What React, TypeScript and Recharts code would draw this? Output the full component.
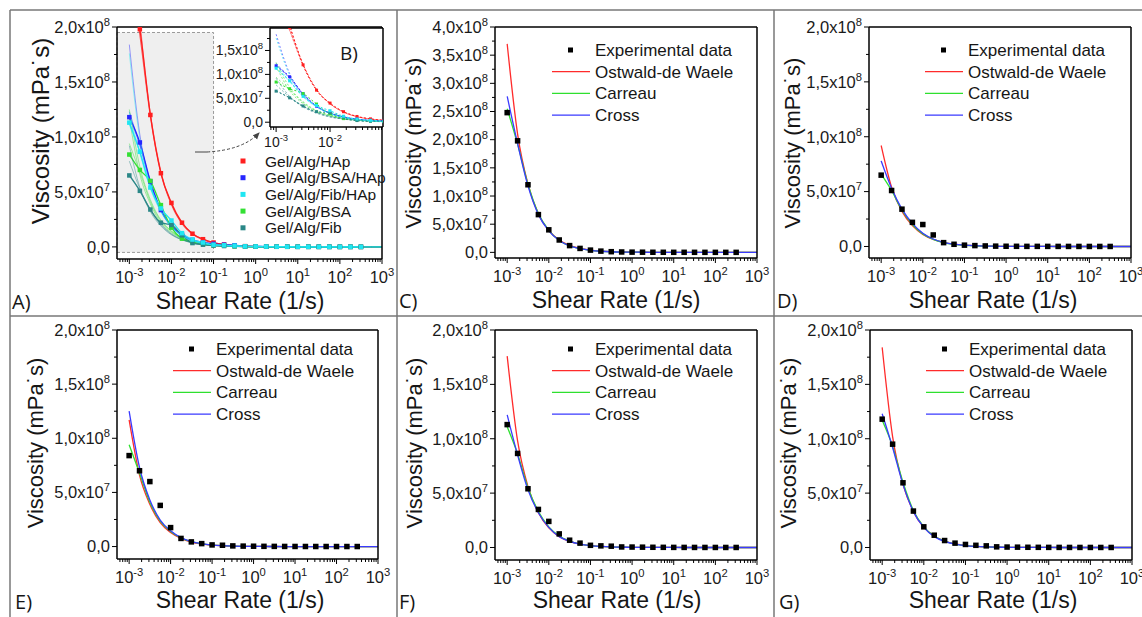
import React from 'react';
import { ComposedChart, Line, XAxis, YAxis, ReferenceLine, ReferenceArea, CartesianGrid } from 'recharts';

const FONT = 'Arial, "Liberation Sans", sans-serif';
const LABEL_FONT = '"Open Sans", Arial, sans-serif';

// shear rate (1/s) of the measured points, and of the fitted curves
const RATE = [0.001, 0.00178, 0.00316, 0.00562, 0.01, 0.0178, 0.0316, 0.0562, 0.1, 0.178, 0.316, 0.562, 1, 1.78, 3.16, 5.62, 10, 17.8, 31.6, 56.2, 100, 178, 316];
const FIT_RATE = [...RATE, 562, 1000];

// viscosity in units of 10^8 mPa·s
const C_EXP = [2.48, 1.98, 1.2, 0.67, 0.4, 0.22, 0.12, 0.07, 0.04, 0.022, 0.012, 0.007, 0.004, 0.003, 0.002, 0.0015, 0.001, 0.001, 0.0008, 0.0006, 0.0005, 0.0004, 0.0003];
const C_OW = [3.7, 2.1, 1.21, 0.68, 0.39, 0.22, 0.125, 0.07, 0.04, 0.023, 0.013, 0.007, 0.004, 0.0023, 0.0013, 0.0007, 0.0004, 0.0002, 0.0001, 0.0001, 0, 0, 0, 0, 0];
const C_CA = [2.55, 1.92, 1.21, 0.69, 0.39, 0.21, 0.115, 0.065, 0.036, 0.02, 0.011, 0.006, 0.0035, 0.002, 0.001, 0.0006, 0.0003, 0.0002, 0.0001, 0, 0, 0, 0, 0, 0];
const C_CR = [2.77, 1.93, 1.18, 0.67, 0.38, 0.21, 0.115, 0.065, 0.036, 0.02, 0.011, 0.006, 0.0035, 0.002, 0.001, 0.0006, 0.0003, 0.0002, 0.0001, 0, 0, 0, 0, 0, 0];

const D_EXP = [0.65, 0.51, 0.34, 0.22, 0.2, 0.105, 0.035, 0.02, 0.012, 0.008, 0.005, 0.003, 0.002, 0.0015, 0.001, 0.001, 0.0008, 0.0006, 0.0005, 0.0004, 0.0003, 0.0003, 0.0002];
const D_OW = [0.92, 0.54, 0.32, 0.19, 0.11, 0.064, 0.037, 0.021, 0.012, 0.007, 0.004, 0.0023, 0.0013, 0.0008, 0.0004, 0.0002, 0.0001, 0, 0, 0, 0, 0, 0, 0, 0];
const D_CA = [0.66, 0.51, 0.33, 0.2, 0.115, 0.065, 0.036, 0.02, 0.011, 0.006, 0.0035, 0.002, 0.001, 0.0006, 0.0003, 0.0002, 0.0001, 0, 0, 0, 0, 0, 0, 0, 0];
const D_CR = [0.78, 0.53, 0.34, 0.21, 0.12, 0.068, 0.038, 0.021, 0.012, 0.007, 0.004, 0.002, 0.001, 0.0006, 0.0003, 0.0002, 0.0001, 0, 0, 0, 0, 0, 0, 0, 0];

const E_EXP = [0.84, 0.7, 0.6, 0.38, 0.175, 0.075, 0.043, 0.027, 0.015, 0.012, 0.006, 0.004, 0.003, 0.002, 0.0015, 0.001, 0.0008, 0.0006, 0.0005, 0.0004, 0.0003, 0.0003, 0.0002];
const E_OW = [1.17, 0.66, 0.39, 0.22, 0.13, 0.075, 0.042, 0.024, 0.013, 0.0075, 0.004, 0.0023, 0.0013, 0.0007, 0.0004, 0.0002, 0.0001, 0, 0, 0, 0, 0, 0, 0, 0];
const E_CA = [0.94, 0.68, 0.41, 0.235, 0.14, 0.08, 0.045, 0.025, 0.014, 0.008, 0.0045, 0.0025, 0.0014, 0.0008, 0.0004, 0.0002, 0.0001, 0, 0, 0, 0, 0, 0, 0, 0];
const E_CR = [1.25, 0.73, 0.43, 0.245, 0.145, 0.082, 0.046, 0.026, 0.014, 0.008, 0.0045, 0.0025, 0.0014, 0.0008, 0.0004, 0.0002, 0.0001, 0, 0, 0, 0, 0, 0, 0, 0];

const F_EXP = [1.13, 0.865, 0.54, 0.35, 0.24, 0.125, 0.067, 0.04, 0.02, 0.015, 0.012, 0.005, 0.004, 0.003, 0.002, 0.0015, 0.001, 0.0008, 0.0006, 0.0005, 0.0004, 0.0003, 0.0003];
const F_OW = [1.76, 0.98, 0.56, 0.32, 0.18, 0.1, 0.056, 0.031, 0.017, 0.01, 0.0055, 0.003, 0.0017, 0.001, 0.0005, 0.0003, 0.0002, 0.0001, 0, 0, 0, 0, 0, 0, 0];
const F_CA = [1.11, 0.86, 0.55, 0.33, 0.19, 0.105, 0.058, 0.032, 0.018, 0.01, 0.0055, 0.003, 0.0017, 0.001, 0.0005, 0.0003, 0.0002, 0.0001, 0, 0, 0, 0, 0, 0, 0];
const F_CR = [1.22, 0.85, 0.53, 0.32, 0.185, 0.1, 0.057, 0.032, 0.018, 0.01, 0.0055, 0.003, 0.0017, 0.001, 0.0005, 0.0003, 0.0002, 0.0001, 0, 0, 0, 0, 0, 0, 0];

const G_EXP = [1.18, 0.95, 0.595, 0.335, 0.19, 0.113, 0.064, 0.04, 0.028, 0.02, 0.015, 0.006, 0.004, 0.003, 0.002, 0.0015, 0.001, 0.0008, 0.0006, 0.0005, 0.0004, 0.0003, 0.0003];
const G_OW = [1.84, 1.02, 0.58, 0.33, 0.185, 0.105, 0.058, 0.033, 0.018, 0.01, 0.006, 0.0033, 0.0018, 0.001, 0.0006, 0.0003, 0.0002, 0.0001, 0, 0, 0, 0, 0, 0, 0];
const G_CA = [1.17, 0.93, 0.6, 0.34, 0.19, 0.105, 0.058, 0.032, 0.018, 0.01, 0.0055, 0.003, 0.0017, 0.001, 0.0005, 0.0003, 0.0002, 0.0001, 0, 0, 0, 0, 0, 0, 0];
const G_CR = [1.23, 0.92, 0.58, 0.33, 0.185, 0.1, 0.056, 0.031, 0.017, 0.0095, 0.005, 0.003, 0.0017, 0.001, 0.0005, 0.0003, 0.0002, 0.0001, 0, 0, 0, 0, 0, 0, 0];

// axis ticks
const X_MIN = 5.1e-4;
const X_MAX = 1000;
const DECADES = [-4, -3, -2, -1, 0, 1, 2];
const MANTISSA = [1, 2, 3, 4, 5, 6, 7, 8, 9];
const X_TICKS = DECADES.flatMap((d) => MANTISSA.map((m) => m * Math.pow(10, d))).filter((v) => v >= X_MIN).concat([1000]);
const Y_TICKS_2 = [0, 0.25, 0.5, 0.75, 1, 1.25, 1.5, 1.75, 2];
const Y_TICKS_4 = [0, 0.25, 0.5, 0.75, 1, 1.25, 1.5, 1.75, 2, 2.25, 2.5, 2.75, 3, 3.25, 3.5, 3.75, 4];
const INSET_X = [7.7e-4, 0.096];
const INSET_X_TICKS = X_TICKS.filter((v) => v >= INSET_X[0] && v <= INSET_X[1]);
const INSET_Y_TICKS = [0, 0.25, 0.5, 0.75, 1, 1.25, 1.5, 1.75];

const RED = '#ff2b2b';
const GREEN = '#2ee02e';
const BLUE = '#3a3aff';
const FIT_NAMES = ['Ostwald-de Waele', 'Carreau', 'Cross'];
const FIT_COLORS = [RED, GREEN, BLUE];

const SAMPLES = [
  { name: 'Gel/Alg/HAp', color: '#ff1f1f', exp: C_EXP, fits: [C_OW, C_CA, C_CR] },
  { name: 'Gel/Alg/BSA/HAp', color: '#2626ff', exp: G_EXP, fits: [G_OW, G_CA, G_CR] },
  { name: 'Gel/Alg/Fib/HAp', color: '#1fe6f2', exp: F_EXP, fits: [F_OW, F_CA, F_CR] },
  { name: 'Gel/Alg/BSA', color: '#33e033', exp: E_EXP, fits: [E_OW, E_CA, E_CR] },
  { name: 'Gel/Alg/Fib', color: '#2a8787', exp: D_EXP, fits: [D_OW, D_CA, D_CR] },
];
const DRAW_ORDER = [0, 1, 3, 4, 2];

const pts = (rates: number[], vals: number[]) => rates.map((x, i) => ({ x, y: vals[i] }));

const square = (size: number, color: string) => (p: any) => {
  if (p.cx == null || p.cy == null) return <g key={p.key} />;
  return <rect key={p.key} x={p.cx - size / 2} y={p.cy - size / 2} width={size} height={size} fill={color} />;
};

const XTick = (props: any) => {
  const { x, y, payload, fs = 16 } = props;
  const v = payload.value as number;
  const lg = Math.log10(v);
  const e = Math.round(lg);
  const major = Math.abs(lg - e) < 1e-6;
  return (
    <g>
      <line x1={x} y1={y} x2={x} y2={y + (major ? 5 : 3)} stroke="#000" strokeWidth={1} />
      {major ? (
        <text x={x} y={y + fs * 1.45} textAnchor="middle" fontSize={fs} fontFamily={FONT} fill="#1a1a1a">
          10<tspan dy={-fs * 0.42} fontSize={fs * 0.68}>{e}</tspan>
        </text>
      ) : null}
    </g>
  );
};

const yLabel = (v: number) => {
  if (Math.abs(v) < 1e-9) return ['0,0', ''];
  if (v < 1) return [(v * 10).toFixed(1).replace('.', ',') + 'x10', '7'];
  return [v.toFixed(1).replace('.', ',') + 'x10', '8'];
};

const YTick = (props: any) => {
  const { x, y, payload, fs = 16 } = props;
  const v = payload.value as number;
  const major = Math.abs(v * 2 - Math.round(v * 2)) < 1e-6;
  const [base, exp] = yLabel(v);
  return (
    <g>
      <line x1={x} y1={y} x2={x - (major ? 5 : 3)} y2={y} stroke="#000" strokeWidth={1} />
      {major ? (
        <text x={x - 7} y={y + fs * 0.35} textAnchor="end" fontSize={fs} fontFamily={FONT} fill="#1a1a1a">
          {base}
          {exp ? <tspan dy={-fs * 0.42} fontSize={fs * 0.68}>{exp}</tspan> : null}
        </text>
      ) : null}
    </g>
  );
};

const PAD_L = 90;
const PAD_T = 20;
const PAD_R = 16;
const PAD_B = 32;
const AXIS = { stroke: '#000', strokeWidth: 1.5 };

type PlotProps = {
  x: number;
  y: number;
  w: number;
  h: number;
  xDomain: number[];
  xTicks: number[];
  yDomain: number[];
  yTicks: number[];
  fs: number;
  white?: boolean;
  children?: React.ReactNode;
};

function Plot({ x, y, w, h, xDomain, xTicks, yDomain, yTicks, fs, white, children }: PlotProps) {
  return (
    <div style={{ position: 'absolute', left: x - PAD_L, top: y - PAD_T }}>
      <ComposedChart width={PAD_L + w + PAD_R} height={PAD_T + h + PAD_B} margin={{ top: PAD_T, right: PAD_R, bottom: 0, left: 0 }}>
        {white ? <CartesianGrid fill="#fff" horizontal={false} vertical={false} /> : null}
        <XAxis
          dataKey="x"
          type="number"
          scale="log"
          domain={xDomain}
          allowDataOverflow
          ticks={xTicks}
          interval={0}
          height={PAD_B}
          tickSize={0}
          tickMargin={0}
          tickLine={false}
          axisLine={AXIS}
          tick={<XTick fs={fs} />}
        />
        <YAxis
          type="number"
          domain={yDomain}
          allowDataOverflow
          ticks={yTicks}
          interval={0}
          width={PAD_L}
          tickSize={0}
          tickMargin={0}
          tickLine={false}
          axisLine={AXIS}
          tick={<YTick fs={fs} />}
        />
        {children}
        <ReferenceLine y={yDomain[1]} stroke="#000" strokeWidth={1.5} ifOverflow="visible" />
        <ReferenceLine x={xDomain[1]} stroke="#000" strokeWidth={1.5} ifOverflow="visible" />
      </ComposedChart>
    </div>
  );
}

const fitLines = (fits: number[][], key: string) =>
  fits.map((f, i) => (
    <Line
      key={key + i}
      data={pts(FIT_RATE, f)}
      dataKey="y"
      type="monotone"
      stroke={FIT_COLORS[i]}
      strokeWidth={1.3}
      dot={false}
      activeDot={false}
      isAnimationActive={false}
    />
  ));

const expPoints = (vals: number[], key: string) => (
  <Line
    key={key}
    data={pts(RATE, vals)}
    dataKey="y"
    stroke="none"
    dot={square(5.5, '#000')}
    activeDot={false}
    isAnimationActive={false}
  />
);

const sampleLines = (small: boolean) =>
  DRAW_ORDER.flatMap((idx) => {
    const s = SAMPLES[idx];
    const fits = s.fits.map((f, i) => (
      <Line
        key={s.name + 'f' + i}
        data={pts(FIT_RATE, f)}
        dataKey="y"
        type="monotone"
        stroke={s.color}
        strokeOpacity={small ? 0.6 : 0.45}
        strokeWidth={1}
        strokeDasharray={small ? '2 2' : undefined}
        dot={false}
        activeDot={false}
        isAnimationActive={false}
      />
    ));
    const exp = (
      <Line
        key={s.name + 'e'}
        data={pts(RATE, s.exp)}
        dataKey="y"
        type="monotone"
        stroke={s.color}
        strokeWidth={small ? 1 : 1.3}
        strokeDasharray={small ? '2 2' : undefined}
        dot={square(small ? 3 : 4.5, s.color)}
        activeDot={false}
        isAnimationActive={false}
      />
    );
    return [...fits, exp];
  });

type FitPanel = { key: string; x: number; y: number; w: number; h: number; yMin: number; yMax: number; yTicks: number[]; exp: number[]; fits: number[][] };

const PANELS: FitPanel[] = [
  { key: 'C', x: 495, y: 27, w: 262, h: 231, yMin: -0.1, yMax: 4, yTicks: Y_TICKS_4, exp: C_EXP, fits: [C_OW, C_CA, C_CR] },
  { key: 'D', x: 869, y: 27, w: 262, h: 231, yMin: -0.105, yMax: 2, yTicks: Y_TICKS_2, exp: D_EXP, fits: [D_OW, D_CA, D_CR] },
  { key: 'E', x: 117, y: 330, w: 261, h: 229, yMin: -0.115, yMax: 2, yTicks: Y_TICKS_2, exp: E_EXP, fits: [E_OW, E_CA, E_CR] },
  { key: 'F', x: 495, y: 330, w: 262, h: 230, yMin: -0.115, yMax: 2, yTicks: Y_TICKS_2, exp: F_EXP, fits: [F_OW, F_CA, F_CR] },
  { key: 'G', x: 870, y: 330, w: 262, h: 230, yMin: -0.115, yMax: 2, yTicks: Y_TICKS_2, exp: G_EXP, fits: [G_OW, G_CA, G_CR] },
];

const TEXT = '#161616';

function FitLegend({ x, y }: { x: number; y: number }) {
  const step = 21.7;
  return (
    <g fontFamily={FONT} fontSize={17} fill={TEXT}>
      <rect x={x + 16} y={y - 2.5} width={5} height={5} fill="#000" />
      <text x={x + 43} y={y + 6}>Experimental data</text>
      {FIT_NAMES.map((n, i) => (
        <g key={n}>
          <line x1={x} x2={x + 38} y1={y + step * (i + 1)} y2={y + step * (i + 1)} stroke={FIT_COLORS[i]} strokeWidth={1.3} />
          <text x={x + 43} y={y + step * (i + 1) + 6}>{n}</text>
        </g>
      ))}
    </g>
  );
}

const LEGEND_POS: Record<string, [number, number]> = { C: [552, 50], D: [925, 50], E: [173, 349], F: [552, 349], G: [926, 349] };
const YLABEL_POS: Record<string, [number, number]> = { A: [40, 131], C: [413, 143], D: [792, 143], E: [35, 443], F: [414, 443], G: [788, 443] };
const XLABEL_POS: Record<string, [number, number]> = { A: [240, 301], C: [616, 300], D: [993, 300], E: [240, 600], F: [617, 600], G: [993, 600] };
const TAG_POS: Record<string, [number, number]> = { A: [12, 309], C: [399, 308], D: [777, 308], E: [15, 609], F: [399, 609], G: [779, 609] };

export default function App() {
  return (
    <div style={{ position: 'relative', width: 1142, height: 617, background: '#fff', overflow: 'hidden' }}>
      <style>{'body{margin:0}.recharts-surface{overflow:visible}'}</style>

      {/* A) all samples */}
      <Plot x={117} y={27} w={265} h={232} xDomain={[X_MIN, X_MAX]} xTicks={X_TICKS} yDomain={[-0.11, 2]} yTicks={Y_TICKS_2} fs={16.5}>
        <ReferenceArea x1={X_MIN} x2={0.1} y1={-0.05} y2={1.95} fill="#efefef" fillOpacity={1} stroke="#9a9a9a" strokeDasharray="3 2" />
        {sampleLines(false)}
      </Plot>

      {/* B) inset */}
      <Plot x={270} y={28} w={113} h={99} xDomain={INSET_X} xTicks={INSET_X_TICKS} yDomain={[-0.1, 1.97]} yTicks={INSET_Y_TICKS} fs={14} white>
        {sampleLines(true)}
      </Plot>

      {/* C) - G) single sample fits */}
      {PANELS.map((p) => (
        <Plot key={p.key} x={p.x} y={p.y} w={p.w} h={p.h} xDomain={[X_MIN, X_MAX]} xTicks={X_TICKS} yDomain={[p.yMin, p.yMax]} yTicks={p.yTicks} fs={16.5}>
          {expPoints(p.exp, p.key + 'exp')}
          {fitLines(p.fits, p.key + 'fit')}
        </Plot>
      ))}

      <svg width={1142} height={617} style={{ position: 'absolute', left: 0, top: 0, pointerEvents: 'none' }}>
        {/* panel frame */}
        <g stroke="#777" strokeWidth={1.5}>
          <line x1={10} y1={10} x2={1142} y2={10} />
          <line x1={10} y1={10} x2={10} y2={617} />
          <line x1={397} y1={10} x2={397} y2={617} />
          <line x1={774} y1={10} x2={774} y2={617} />
          <line x1={10} y1={316} x2={1142} y2={316} />
        </g>

        {/* arrow to inset */}
        <defs>
          <marker id="ah" markerWidth="8" markerHeight="8" refX="6" refY="4" orient="auto">
            <path d="M0,1 L7,4 L0,7 Z" fill="#444" />
          </marker>
        </defs>
        <line x1={195} y1={152} x2={207} y2={152} stroke="#444" strokeWidth={1} />
        <path d="M207 152 Q243 150 259 133" fill="none" stroke="#444" strokeWidth={1} strokeDasharray="3 2" markerEnd="url(#ah)" />

        {/* A legend */}
        <g fontFamily={FONT} fontSize={15.5} fill={TEXT}>
          {SAMPLES.map((s, i) => (
            <g key={s.name}>
              <rect x={240.5} y={158.5 + i * 16.7} width={5} height={5} fill={s.color} />
              <text x={265} y={166.5 + i * 16.7}>{s.name}</text>
            </g>
          ))}
        </g>
        <text x={340} y={60} fontFamily={LABEL_FONT} fontSize={19} fill={TEXT}>B)</text>

        {PANELS.map((p) => (
          <FitLegend key={p.key} x={LEGEND_POS[p.key][0]} y={LEGEND_POS[p.key][1]} />
        ))}

        {/* axis titles and panel tags */}
        {Object.keys(YLABEL_POS).map((k) => {
          const [cx, cy] = YLABEL_POS[k];
          return (
            <text key={'y' + k} x={cx} y={cy} transform={`rotate(-90 ${cx} ${cy})`} textAnchor="middle" dominantBaseline="central" fontFamily={FONT} fontSize={k === 'A' ? 24 : 22} fill={TEXT}>
              Viscosity (mPa˙s)
            </text>
          );
        })}
        {Object.keys(XLABEL_POS).map((k) => {
          const [cx, cy] = XLABEL_POS[k];
          return (
            <text key={'x' + k} x={cx} y={cy} textAnchor="middle" dominantBaseline="central" fontFamily={FONT} fontSize={23} fill={TEXT}>
              Shear Rate (1/s)
            </text>
          );
        })}
        {Object.keys(TAG_POS).map((k) => (
          <text key={'t' + k} x={TAG_POS[k][0]} y={TAG_POS[k][1]} fontFamily={LABEL_FONT} fontSize={20} fill={TEXT}>
            {k})
          </text>
        ))}
      </svg>
    </div>
  );
}
